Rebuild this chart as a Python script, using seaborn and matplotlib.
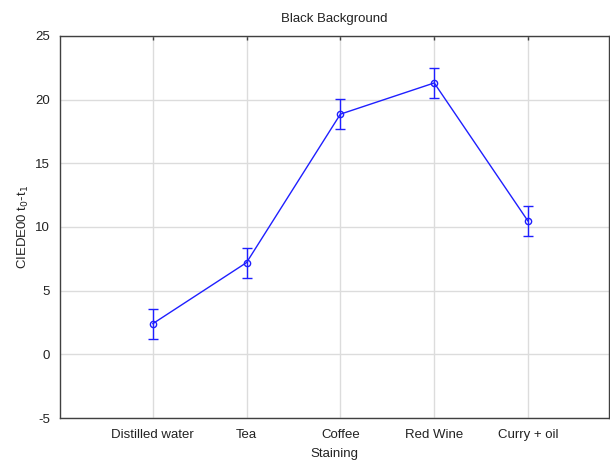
import pandas as pd
import matplotlib.pyplot as plt
import seaborn as sns

# values
stainings = ["Distilled water", "Tea", "Coffee", "Red Wine", "Curry + oil"]
means = [2.4, 7.2, 18.85, 21.3, 10.45]
errors = [1.17, 1.17, 1.17, 1.17, 1.17]

df = pd.DataFrame({"Staining": stainings, "dE": means, "err": errors})
df["pos"] = range(len(df))

sns.set_style("white")
plt.rcParams['font.family'] = ['Liberation Sans', 'DejaVu Sans']
plt.rcParams['axes.unicode_minus'] = False

fig = plt.figure(figsize=(6.1, 4.65), dpi=100)
ax = fig.add_axes([0.098, 0.101, 0.9, 0.822])

blue = '#1f1fff'
sns.lineplot(data=df, x="pos", y="dE", color=blue, marker='o', markersize=4.5,
             markerfacecolor='none', markeredgecolor=blue, markeredgewidth=1,
             linewidth=1, ax=ax, zorder=3)
ax.errorbar(df["pos"], df["dE"], yerr=df["err"], fmt='none', ecolor=blue,
            elinewidth=1, capsize=3.6, capthick=1, zorder=3)

ax.set_xlim(-0.99, 4.86)
ax.set_ylim(-5, 25)
ax.set_yticks([-5, 0, 5, 10, 15, 20, 25])
ax.set_xticks(df["pos"])
ax.set_xticklabels(stainings)

ax.grid(True, color='#dcdcdc', linewidth=1)
ax.set_axisbelow(True)
for s in ax.spines.values():
    s.set_color('#404040')
    s.set_linewidth(1)
ax.tick_params(direction='in', length=3, width=1, colors='#404040',
               labelcolor='#222222', labelsize=9.5, top=True, right=False)
ax.tick_params(axis='x', pad=8)
ax.tick_params(axis='y', pad=7)

ax.set_title("Black Background", fontsize=9.5, pad=10, color='#222222')
ax.set_xlabel("Staining", fontsize=9.5, labelpad=5, color='#222222')
ax.set_ylabel("CIEDE00 t$_0$-t$_1$", fontsize=9.5, labelpad=3, color='#222222')

plt.savefig("out.png", dpi=100)
